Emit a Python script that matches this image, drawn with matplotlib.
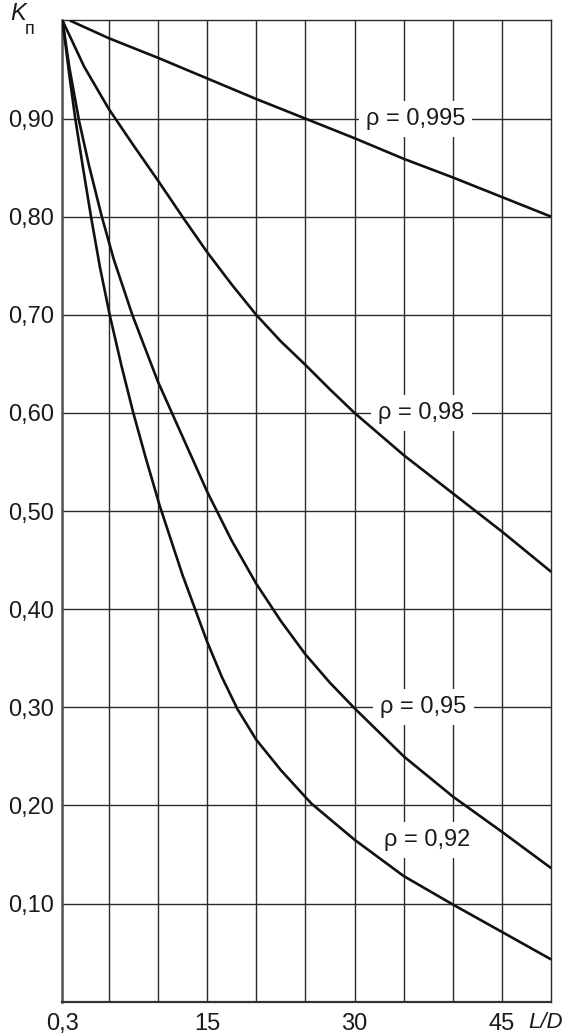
import matplotlib
matplotlib.use("Agg")
import matplotlib.pyplot as plt

plt.rcParams['font.family'] = ['Liberation Sans', 'DejaVu Sans']

# curves: L/D -> K_п
L_0995 = [1.05, 5, 10, 15, 20, 25, 30, 35, 40, 45, 50]
K_0995 = [1.0, 0.982, 0.962, 0.941, 0.920, 0.900, 0.880, 0.859, 0.840, 0.820, 0.800]

L_098 = [0.3, 2.5, 5, 7.5, 10, 12.5, 15, 17.5, 20, 22.5, 25, 27.5, 30, 35, 40, 45, 50]
K_098 = [1.0, 0.953, 0.910, 0.873, 0.837, 0.800, 0.764, 0.731, 0.700, 0.673, 0.649,
         0.624, 0.600, 0.557, 0.518, 0.479, 0.438]

L_095 = [0.3, 1, 2, 3, 4.3, 5.5, 7.4, 10, 12.5, 15, 17.5, 20, 22.5, 25, 27.5, 30,
         35, 40, 45, 50]
K_095 = [1.0, 0.952, 0.897, 0.852, 0.800, 0.757, 0.700, 0.632, 0.576, 0.520, 0.470,
         0.426, 0.388, 0.354, 0.325, 0.299, 0.250, 0.209, 0.173, 0.136]

L_092 = [0.3, 1, 1.6, 2.4, 3.2, 4.1, 5.1, 6.3, 7.5, 8.8, 10.2, 12.5, 15, 16.5, 18.1,
         20, 22.5, 25.6, 30, 35, 40, 45, 50]
K_092 = [1.0, 0.944, 0.900, 0.849, 0.800, 0.749, 0.700, 0.648, 0.600, 0.553, 0.505,
         0.435, 0.367, 0.331, 0.298, 0.267, 0.236, 0.202, 0.165, 0.128, 0.099, 0.071,
         0.043]

series = [(L_0995, K_0995, "ρ = 0,995", 36.2, 0.90),
          (L_098, K_098, "ρ = 0,98", 36.8, 0.60),
          (L_095, K_095, "ρ = 0,95", 37.0, 0.30),
          (L_092, K_092, "ρ = 0,92", 37.4, 0.165)]

x_ticks = [0.3, 5, 10, 15, 20, 25, 30, 35, 40, 45]
x_labels = ['0,3', '', '', '15', '', '', '30', '', '', '45']
y_ticks = [0.1, 0.2, 0.3, 0.4, 0.5, 0.6, 0.7, 0.8, 0.9]
y_labels = ['0,10', '0,20', '0,30', '0,40', '0,50', '0,60', '0,70', '0,80', '0,90']

W, H = 570, 1035
fig = plt.figure(figsize=(W / 100, H / 100), dpi=100)
ax = fig.add_axes([62 / W, (H - 1001.7) / H, (551.3 - 62) / W, (1001.7 - 20.5) / H])

for L, K, label, lx, ly in series:
    ax.plot(L, K, color='#111111', lw=1.9, zorder=3, solid_capstyle='butt',
            solid_joinstyle='round')
    ax.text(lx, ly, label, fontsize=17, ha='center', va='center', color='#1a1a1a',
            zorder=2, bbox=dict(boxstyle='square,pad=0.3', fc='white', ec='none'))

ax.set_xlim(0.25, 50)
ax.set_ylim(0, 1.0)
ax.set_xticks(x_ticks)
ax.set_xticklabels(x_labels)
ax.set_yticks(y_ticks)
ax.set_yticklabels(y_labels)
ax.tick_params(length=0, labelsize=17, colors='#1a1a1a')
ax.tick_params(axis='x', pad=8)
ax.tick_params(axis='y', pad=6)
ax.set_axisbelow(True)
ax.grid(True, color='#2a2a2a', lw=1.0)
for s in ax.spines.values():
    s.set_color('#2a2a2a')
    s.set_linewidth(1.0)
ax.spines['left'].set_color('#555555')
ax.spines['left'].set_linewidth(1.8)
ax.spines['bottom'].set_color('#333333')
ax.spines['bottom'].set_linewidth(1.6)

# axis captions
fig.text(10 / W, 1 - 13 / H, 'K', fontsize=17, style='italic', ha='left', va='center',
         color='#1a1a1a')
fig.text(25 / W, 1 - 29 / H, 'п', fontsize=13, ha='left', va='center', color='#1a1a1a')
fig.text(528 / W, 1 - 1022 / H, 'L/D', fontsize=16, style='italic', ha='left',
         va='center', color='#1a1a1a')

fig.savefig('out.png', dpi=100)
